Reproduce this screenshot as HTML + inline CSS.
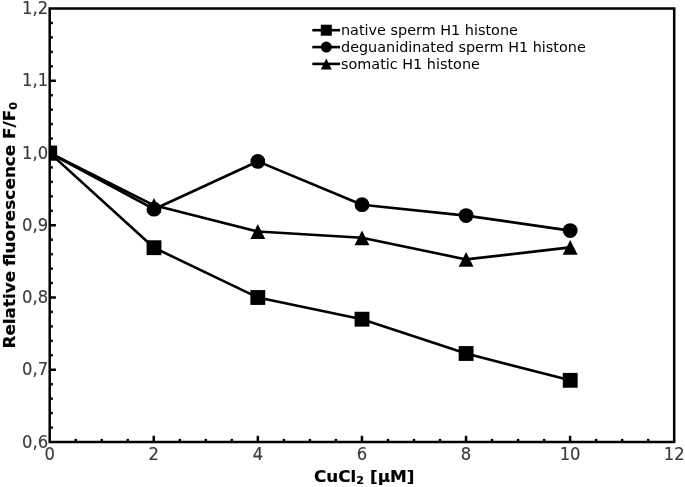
<!DOCTYPE html>
<html lang="en"><head><meta charset="utf-8"><title>Relative fluorescence vs CuCl2</title>
<style>
html,body{margin:0;padding:0;background:#fff;}
body{width:685px;height:487px;overflow:hidden;}
svg{display:block;will-change:transform;}
text{font-family:"DejaVu Sans","Liberation Sans",sans-serif;}
.tk{font-size:16.4px;fill:#3a3a3a;stroke:#3a3a3a;stroke-width:0.15px;}
.lg{font-size:14.4px;fill:#000;}
.lb{font-size:16.8px;font-weight:bold;fill:#000;stroke:#000;stroke-width:0.2px;}
</style></head><body>
<svg width="685" height="487" viewBox="0 0 685 487">
<rect width="685" height="487" fill="#fff"/>
<defs><clipPath id="ax"><rect x="49.7" y="8.5" width="624.5" height="433.5"/></clipPath></defs>

<g stroke="#000" stroke-linecap="butt">
<line x1="75.72" y1="442.0" x2="75.72" y2="438.90" stroke-width="2.5"/>
<line x1="101.74" y1="442.0" x2="101.74" y2="438.90" stroke-width="2.5"/>
<line x1="127.76" y1="442.0" x2="127.76" y2="438.90" stroke-width="2.5"/>
<line x1="153.78" y1="442.0" x2="153.78" y2="435.80" stroke-width="2.5"/>
<line x1="179.80" y1="442.0" x2="179.80" y2="438.90" stroke-width="2.5"/>
<line x1="205.82" y1="442.0" x2="205.82" y2="438.90" stroke-width="2.5"/>
<line x1="231.85" y1="442.0" x2="231.85" y2="438.90" stroke-width="2.5"/>
<line x1="257.87" y1="442.0" x2="257.87" y2="435.80" stroke-width="2.5"/>
<line x1="283.89" y1="442.0" x2="283.89" y2="438.90" stroke-width="2.5"/>
<line x1="309.91" y1="442.0" x2="309.91" y2="438.90" stroke-width="2.5"/>
<line x1="335.93" y1="442.0" x2="335.93" y2="438.90" stroke-width="2.5"/>
<line x1="361.95" y1="442.0" x2="361.95" y2="435.80" stroke-width="2.5"/>
<line x1="387.97" y1="442.0" x2="387.97" y2="438.90" stroke-width="2.5"/>
<line x1="413.99" y1="442.0" x2="413.99" y2="438.90" stroke-width="2.5"/>
<line x1="440.01" y1="442.0" x2="440.01" y2="438.90" stroke-width="2.5"/>
<line x1="466.03" y1="442.0" x2="466.03" y2="435.80" stroke-width="2.5"/>
<line x1="492.05" y1="442.0" x2="492.05" y2="438.90" stroke-width="2.5"/>
<line x1="518.08" y1="442.0" x2="518.08" y2="438.90" stroke-width="2.5"/>
<line x1="544.10" y1="442.0" x2="544.10" y2="438.90" stroke-width="2.5"/>
<line x1="570.12" y1="442.0" x2="570.12" y2="435.80" stroke-width="2.5"/>
<line x1="596.14" y1="442.0" x2="596.14" y2="438.90" stroke-width="2.5"/>
<line x1="622.16" y1="442.0" x2="622.16" y2="438.90" stroke-width="2.5"/>
<line x1="648.18" y1="442.0" x2="648.18" y2="438.90" stroke-width="2.5"/>
<line x1="49.7" y1="427.55" x2="52.80" y2="427.55" stroke-width="2.5"/>
<line x1="49.7" y1="413.10" x2="52.80" y2="413.10" stroke-width="2.5"/>
<line x1="49.7" y1="398.65" x2="52.80" y2="398.65" stroke-width="2.5"/>
<line x1="49.7" y1="384.20" x2="52.80" y2="384.20" stroke-width="2.5"/>
<line x1="49.7" y1="369.75" x2="55.90" y2="369.75" stroke-width="2.5"/>
<line x1="49.7" y1="355.30" x2="52.80" y2="355.30" stroke-width="2.5"/>
<line x1="49.7" y1="340.85" x2="52.80" y2="340.85" stroke-width="2.5"/>
<line x1="49.7" y1="326.40" x2="52.80" y2="326.40" stroke-width="2.5"/>
<line x1="49.7" y1="311.95" x2="52.80" y2="311.95" stroke-width="2.5"/>
<line x1="49.7" y1="297.50" x2="55.90" y2="297.50" stroke-width="2.5"/>
<line x1="49.7" y1="283.05" x2="52.80" y2="283.05" stroke-width="2.5"/>
<line x1="49.7" y1="268.60" x2="52.80" y2="268.60" stroke-width="2.5"/>
<line x1="49.7" y1="254.15" x2="52.80" y2="254.15" stroke-width="2.5"/>
<line x1="49.7" y1="239.70" x2="52.80" y2="239.70" stroke-width="2.5"/>
<line x1="49.7" y1="225.25" x2="55.90" y2="225.25" stroke-width="2.5"/>
<line x1="49.7" y1="210.80" x2="52.80" y2="210.80" stroke-width="2.5"/>
<line x1="49.7" y1="196.35" x2="52.80" y2="196.35" stroke-width="2.5"/>
<line x1="49.7" y1="181.90" x2="52.80" y2="181.90" stroke-width="2.5"/>
<line x1="49.7" y1="167.45" x2="52.80" y2="167.45" stroke-width="2.5"/>
<line x1="49.7" y1="153.00" x2="55.90" y2="153.00" stroke-width="2.5"/>
<line x1="49.7" y1="138.55" x2="52.80" y2="138.55" stroke-width="2.5"/>
<line x1="49.7" y1="124.10" x2="52.80" y2="124.10" stroke-width="2.5"/>
<line x1="49.7" y1="109.65" x2="52.80" y2="109.65" stroke-width="2.5"/>
<line x1="49.7" y1="95.20" x2="52.80" y2="95.20" stroke-width="2.5"/>
<line x1="49.7" y1="80.75" x2="55.90" y2="80.75" stroke-width="2.5"/>
<line x1="49.7" y1="66.30" x2="52.80" y2="66.30" stroke-width="2.5"/>
<line x1="49.7" y1="51.85" x2="52.80" y2="51.85" stroke-width="2.5"/>
<line x1="49.7" y1="37.40" x2="52.80" y2="37.40" stroke-width="2.5"/>
<line x1="49.7" y1="22.95" x2="52.80" y2="22.95" stroke-width="2.5"/>
</g>
<g clip-path="url(#ax)" fill="#000">
<polyline fill="none" stroke="#000" stroke-width="2.60" stroke-linejoin="round" points="49.70,153.00 154.00,209.20 257.80,161.40 362.00,204.70 466.10,215.60 570.20,230.60"/>
<polyline fill="none" stroke="#000" stroke-width="2.60" stroke-linejoin="round" points="49.70,153.00 154.00,205.30 257.80,231.50 362.00,237.80 466.10,259.40 570.20,247.40"/>
<polyline fill="none" stroke="#000" stroke-width="2.60" stroke-linejoin="round" points="49.70,153.00 154.00,247.70 257.80,297.50 362.00,319.20 466.10,353.50 570.20,380.30"/>
<circle cx="49.70" cy="153.00" r="7.42"/>
<circle cx="154.00" cy="209.20" r="7.42"/>
<circle cx="257.80" cy="161.40" r="7.42"/>
<circle cx="362.00" cy="204.70" r="7.42"/>
<circle cx="466.10" cy="215.60" r="7.42"/>
<circle cx="570.20" cy="230.60" r="7.42"/>
<polygon points="49.70,145.57 42.28,160.43 57.12,160.43"/>
<polygon points="154.00,197.88 146.57,212.73 161.43,212.73"/>
<polygon points="257.80,224.07 250.38,238.93 265.23,238.93"/>
<polygon points="362.00,230.38 354.57,245.23 369.43,245.23"/>
<polygon points="466.10,251.97 458.68,266.82 473.53,266.82"/>
<polygon points="570.20,239.97 562.78,254.83 577.62,254.83"/>
<rect x="42.28" y="145.57" width="14.85" height="14.85"/>
<rect x="146.57" y="240.27" width="14.85" height="14.85"/>
<rect x="250.38" y="290.07" width="14.85" height="14.85"/>
<rect x="354.57" y="311.77" width="14.85" height="14.85"/>
<rect x="458.68" y="346.07" width="14.85" height="14.85"/>
<rect x="562.78" y="372.88" width="14.85" height="14.85"/>
</g>
<rect x="49.7" y="8.5" width="624.5" height="433.5" fill="none" stroke="#000" stroke-width="2.5"/>
<text class="tk" transform="translate(49.70 459.5) scale(1 1.06)" text-anchor="middle">0</text>
<text class="tk" transform="translate(153.78 459.5) scale(1 1.06)" text-anchor="middle">2</text>
<text class="tk" transform="translate(257.87 459.5) scale(1 1.06)" text-anchor="middle">4</text>
<text class="tk" transform="translate(361.95 459.5) scale(1 1.06)" text-anchor="middle">6</text>
<text class="tk" transform="translate(466.03 459.5) scale(1 1.06)" text-anchor="middle">8</text>
<text class="tk" transform="translate(570.12 459.5) scale(1 1.06)" text-anchor="middle">10</text>
<text class="tk" transform="translate(674.20 459.5) scale(1 1.06)" text-anchor="middle">12</text>
<text class="tk" transform="translate(48.1 447.70) scale(1 1.06)" text-anchor="end">0,6</text>
<text class="tk" transform="translate(48.1 375.45) scale(1 1.06)" text-anchor="end">0,7</text>
<text class="tk" transform="translate(48.1 303.20) scale(1 1.06)" text-anchor="end">0,8</text>
<text class="tk" transform="translate(48.1 230.95) scale(1 1.06)" text-anchor="end">0,9</text>
<text class="tk" transform="translate(48.1 158.70) scale(1 1.06)" text-anchor="end">1,0</text>
<text class="tk" transform="translate(48.1 86.45) scale(1 1.06)" text-anchor="end">1,1</text>
<text class="tk" transform="translate(48.1 14.20) scale(1 1.06)" text-anchor="end">1,2</text>
<text class="lb" transform="translate(364.2 481.5) scale(1 0.94)" text-anchor="middle">CuCl<tspan font-size="11.2" dy="2.5">2</tspan><tspan dy="-2.5"> [µM]</tspan></text>
<text class="lb" transform="translate(14.5 348.5) rotate(-90) scale(1 0.94)" text-anchor="start">Relative <tspan dx="-0.9 0 0 0 0.3 0 0.3 0 0.3 0 0 0">fluorescence</tspan> <tspan dx="0">F/F</tspan><tspan font-size="11.2" dy="2.5">0</tspan></text>
<g fill="#000">
<line x1="312.3" y1="30.2" x2="340.1" y2="30.2" stroke="#000" stroke-width="2.6"/>
<rect x="320.80" y="24.70" width="11.00" height="11.00"/>
<text class="lg" x="341.0" y="34.50">native sperm H1 histone</text>
<line x1="312.3" y1="47.1" x2="340.1" y2="47.1" stroke="#000" stroke-width="2.6"/>
<circle cx="326.30" cy="47.10" r="5.50"/>
<text class="lg" x="341.0" y="51.80">deguanidinated sperm H1 histone</text>
<line x1="312.3" y1="63.9" x2="340.1" y2="63.9" stroke="#000" stroke-width="2.6"/>
<polygon points="326.30,58.40 320.80,69.40 331.80,69.40"/>
<text class="lg" x="341.0" y="69.20">somatic H1 histone</text>
</g>
</svg></body></html>
